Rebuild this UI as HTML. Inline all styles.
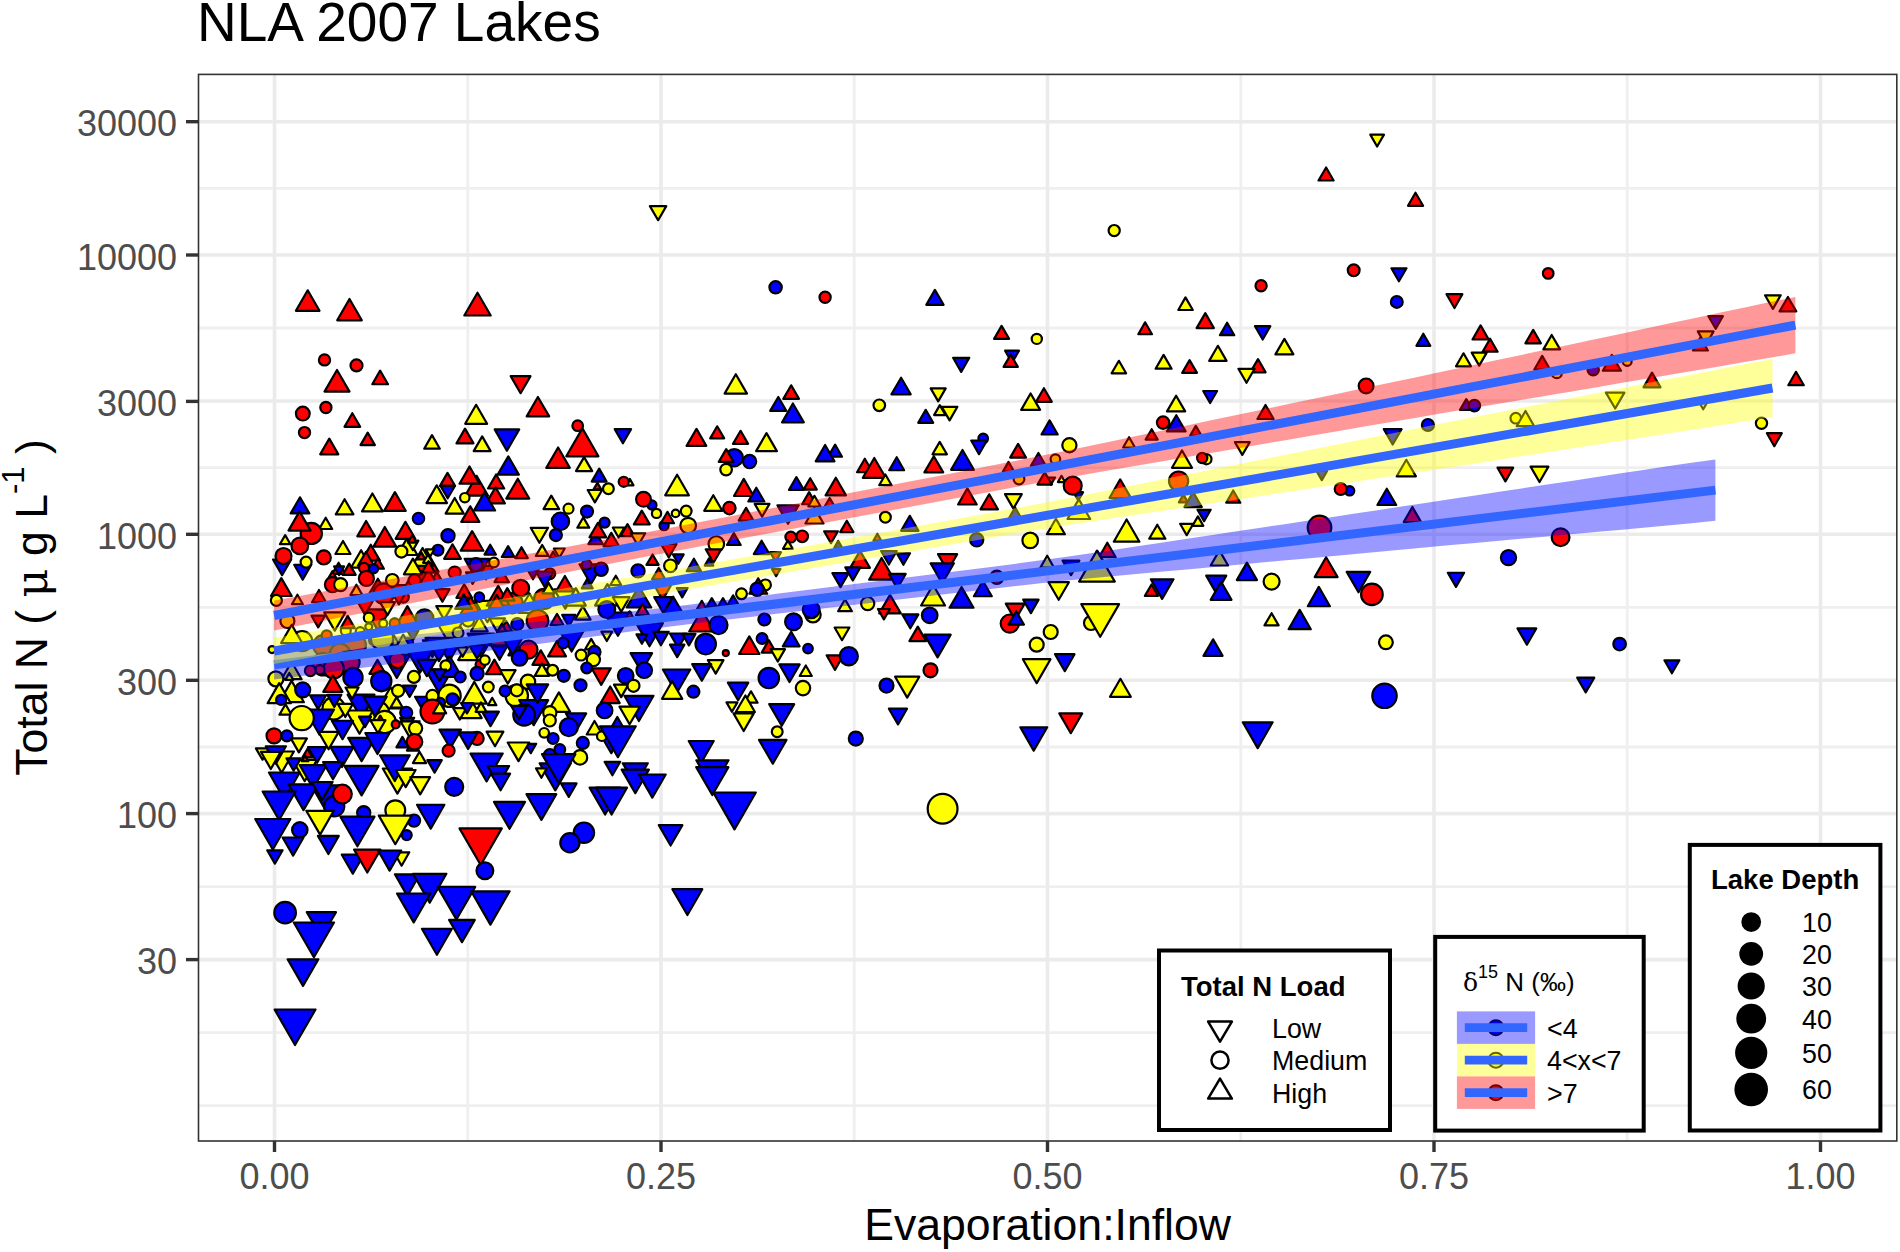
<!DOCTYPE html>
<html><head><meta charset="utf-8">
<style>
html,body{margin:0;padding:0;background:#fff;}
svg{display:block;}
text{font-family:"Liberation Sans",Arial,sans-serif;}
</style></head>
<body>
<svg width="1900" height="1252" viewBox="0 0 1900 1252">
<rect x="0" y="0" width="1900" height="1252" fill="#fff"/>
<defs><clipPath id="pc"><rect x="198.5" y="74.4" width="1698.3" height="1066.6"/></clipPath></defs>
<text x="197" y="41.3" font-size="55" fill="#000">NLA 2007 Lakes</text>
<g clip-path="url(#pc)">
<g stroke="#EBEBEB" fill="none">
<line x1="198.5" x2="1896.8" y1="1105.7" y2="1105.7" stroke-width="2.8" stroke="#EFEFEF"/>
<line x1="198.5" x2="1896.8" y1="1032.7" y2="1032.7" stroke-width="2.8" stroke="#EFEFEF"/>
<line x1="198.5" x2="1896.8" y1="886.6" y2="886.6" stroke-width="2.8" stroke="#EFEFEF"/>
<line x1="198.5" x2="1896.8" y1="747.0" y2="747.0" stroke-width="2.8" stroke="#EFEFEF"/>
<line x1="198.5" x2="1896.8" y1="607.3" y2="607.3" stroke-width="2.8" stroke="#EFEFEF"/>
<line x1="198.5" x2="1896.8" y1="467.7" y2="467.7" stroke-width="2.8" stroke="#EFEFEF"/>
<line x1="198.5" x2="1896.8" y1="328.0" y2="328.0" stroke-width="2.8" stroke="#EFEFEF"/>
<line x1="198.5" x2="1896.8" y1="188.4" y2="188.4" stroke-width="2.8" stroke="#EFEFEF"/>
<line y1="74.4" y2="1141.0" x1="467.8" x2="467.8" stroke-width="2.8" stroke="#EFEFEF"/>
<line y1="74.4" y2="1141.0" x1="854.2" x2="854.2" stroke-width="2.8" stroke="#EFEFEF"/>
<line y1="74.4" y2="1141.0" x1="1240.8" x2="1240.8" stroke-width="2.8" stroke="#EFEFEF"/>
<line y1="74.4" y2="1141.0" x1="1627.2" x2="1627.2" stroke-width="2.8" stroke="#EFEFEF"/>
<line x1="198.5" x2="1896.8" y1="959.6" y2="959.6" stroke-width="3.6"/>
<line x1="198.5" x2="1896.8" y1="813.6" y2="813.6" stroke-width="3.6"/>
<line x1="198.5" x2="1896.8" y1="680.3" y2="680.3" stroke-width="3.6"/>
<line x1="198.5" x2="1896.8" y1="534.3" y2="534.3" stroke-width="3.6"/>
<line x1="198.5" x2="1896.8" y1="401.0" y2="401.0" stroke-width="3.6"/>
<line x1="198.5" x2="1896.8" y1="255.0" y2="255.0" stroke-width="3.6"/>
<line x1="198.5" x2="1896.8" y1="121.7" y2="121.7" stroke-width="3.6"/>
<line y1="74.4" y2="1141.0" x1="274.5" x2="274.5" stroke-width="3.6"/>
<line y1="74.4" y2="1141.0" x1="661.0" x2="661.0" stroke-width="3.6"/>
<line y1="74.4" y2="1141.0" x1="1047.5" x2="1047.5" stroke-width="3.6"/>
<line y1="74.4" y2="1141.0" x1="1434.0" x2="1434.0" stroke-width="3.6"/>
<line y1="74.4" y2="1141.0" x1="1820.5" x2="1820.5" stroke-width="3.6"/>
</g>
<g stroke="#000" stroke-width="2.2" stroke-linejoin="round">
<polygon points="282.1,575.2 291.2,559.5 273.0,559.5" fill="#0000FF"/>
<polygon points="302.7,579.6 311.3,564.8 294.2,564.8" fill="#0000FF"/>
<polygon points="751.0,691.3 757.6,702.7 744.4,702.7" fill="#FFFF00"/>
<circle cx="813.0" cy="614.7" r="7.7" fill="#FFFF00"/>
<polygon points="436.8,571.9 444.0,584.4 429.6,584.4" fill="#FF0000"/>
<circle cx="424.5" cy="575.9" r="5.4" fill="#FF0000"/>
<polygon points="486.0,579.3 493.8,565.8 478.2,565.8" fill="#FF0000"/>
<polygon points="501.7,569.7 508.9,582.1 494.5,582.1" fill="#FF0000"/>
<polygon points="472.6,583.9 479.2,572.4 466.0,572.4" fill="#FF0000"/>
<polygon points="533.0,579.3 540.8,565.8 525.2,565.8" fill="#0000FF"/>
<polygon points="454.7,616.6 461.9,629.1 447.5,629.1" fill="#FFFF00"/>
<circle cx="468.1" cy="620.6" r="6.0" fill="#FFFF00"/>
<polygon points="497.2,631.9 505.0,618.4 489.4,618.4" fill="#FFFF00"/>
<polygon points="506.2,621.0 512.2,631.4 500.2,631.4" fill="#FF0000"/>
<circle cx="517.3" cy="624.0" r="6.0" fill="#0000FF"/>
<polygon points="568.8,626.4 575.4,614.9 562.2,614.9" fill="#0000FF"/>
<polygon points="432.4,656.9 441.9,640.3 422.8,640.3" fill="#0000FF"/>
<polygon points="449.1,661.4 457.5,646.9 440.8,646.9" fill="#0000FF"/>
<polygon points="516.2,641.8 524.0,655.3 508.4,655.3" fill="#0000FF"/>
<circle cx="549.8" cy="573.7" r="5.4" fill="#FF0000"/>
<circle cx="345.8" cy="630.6" r="5.0" fill="#FFFF00"/>
<circle cx="360.2" cy="631.6" r="4.5" fill="#FFFF00"/>
<circle cx="374.6" cy="640.2" r="5.5" fill="#FF0000"/>
<polygon points="393.7,635.0 399.8,645.4 387.7,645.4" fill="#FFFF00"/>
<circle cx="408.1" cy="643.1" r="5.0" fill="#0000FF"/>
<polygon points="355.4,640.2 360.9,649.8 349.9,649.8" fill="#FFFF00"/>
<circle cx="336.2" cy="645.0" r="5.0" fill="#FFFF00"/>
<polygon points="412.9,640.2 418.4,630.6 407.4,630.6" fill="#0000FF"/>
<polygon points="384.2,597.9 390.7,586.6 377.6,586.6" fill="#FFFF00"/>
<circle cx="403.3" cy="597.1" r="5.5" fill="#FF0000"/>
<polygon points="377.9,578.7 389.1,598.1 366.7,598.1" fill="#FF0000"/>
<polygon points="398.9,604.4 410.1,585.1 387.8,585.1" fill="#FF0000"/>
<polygon points="428.4,569.2 438.5,586.6 418.4,586.6" fill="#FF0000"/>
<polygon points="476.8,580.1 489.1,558.8 464.6,558.8" fill="#0000FF"/>
<circle cx="512.6" cy="603.2" r="10.1" fill="#FF0000"/>
<polygon points="529.5,593.5 540.6,612.8 518.3,612.8" fill="#FFFF00"/>
<polygon points="565.3,608.6 576.4,589.3 554.1,589.3" fill="#FFFF00"/>
<polygon points="638.9,586.2 651.2,607.5 626.7,607.5" fill="#0000FF"/>
<polygon points="607.4,584.1 619.7,605.4 595.1,605.4" fill="#FFFF00"/>
<circle cx="323.2" cy="645.3" r="10.1" fill="#FF0000"/>
<circle cx="302.1" cy="641.1" r="10.1" fill="#FFFF00"/>
<circle cx="354.7" cy="645.3" r="11.2" fill="#FF0000"/>
<circle cx="382.1" cy="638.9" r="11.2" fill="#FFFF00"/>
<polygon points="403.2,634.6 415.4,655.9 390.9,655.9" fill="#FFFF00"/>
<circle cx="340.0" cy="653.7" r="10.1" fill="#FF0000"/>
<polygon points="449.5,644.2 462.9,621.0 436.1,621.0" fill="#FFFF00"/>
<polygon points="438.9,661.1 452.4,637.9 425.5,637.9" fill="#0000FF"/>
<polygon points="470.5,638.8 482.8,660.1 458.2,660.1" fill="#FFFF00"/>
<polygon points="481.1,656.9 494.5,633.7 467.6,633.7" fill="#0000FF"/>
<polygon points="502.1,624.1 514.4,645.4 489.8,645.4" fill="#FF0000"/>
<polygon points="512.6,654.8 526.0,631.6 499.2,631.6" fill="#0000FF"/>
<polygon points="571.6,651.5 586.1,626.4 557.1,626.4" fill="#0000FF"/>
<polygon points="617.9,635.8 631.3,612.6 604.5,612.6" fill="#0000FF"/>
<polygon points="649.5,646.3 662.9,623.1 636.1,623.1" fill="#0000FF"/>
<circle cx="323.2" cy="664.2" r="11.2" fill="#FF0000"/>
<polygon points="291.6,661.8 301.6,679.2 281.5,679.2" fill="#FFFF00"/>
<polygon points="396.8,677.9 410.2,654.7 383.4,654.7" fill="#0000FF"/>
<polygon points="420.0,672.6 434.5,647.4 405.5,647.4" fill="#0000FF"/>
<polygon points="438.9,692.7 452.4,669.4 425.5,669.4" fill="#0000FF"/>
<polygon points="449.5,655.7 461.8,677.0 437.2,677.0" fill="#0000FF"/>
<polygon points="291.6,680.9 303.9,702.2 279.3,702.2" fill="#FFFF00"/>
<circle cx="333.7" cy="708.4" r="11.2" fill="#FFFF00"/>
<polygon points="361.1,717.9 374.5,694.7 347.6,694.7" fill="#0000FF"/>
<polygon points="390.5,687.3 402.8,708.5 378.2,708.5" fill="#FFFF00"/>
<circle cx="377.9" cy="712.6" r="11.2" fill="#FFFF00"/>
<polygon points="428.4,720.0 441.8,696.8 415.0,696.8" fill="#0000FF"/>
<circle cx="449.5" cy="695.8" r="11.2" fill="#FFFF00"/>
<polygon points="470.5,698.7 481.7,718.1 459.4,718.1" fill="#FFFF00"/>
<circle cx="516.8" cy="695.8" r="11.2" fill="#FFFF00"/>
<polygon points="533.7,725.2 548.2,700.1 519.2,700.1" fill="#0000FF"/>
<polygon points="558.9,692.4 570.1,711.8 547.8,711.8" fill="#FFFF00"/>
<polygon points="638.9,721.0 653.5,695.8 624.4,695.8" fill="#0000FF"/>
<polygon points="407.4,537.6 417.4,555.0 397.3,555.0" fill="#FFFF00"/>
<polygon points="361.1,550.2 371.1,567.7 351.0,567.7" fill="#FFFF00"/>
<polygon points="426.3,550.4 438.6,571.7 414.0,571.7" fill="#FF0000"/>
<polygon points="377.9,630.6 390.2,609.4 365.6,609.4" fill="#FF0000"/>
<polygon points="407.4,606.1 418.5,625.5 396.2,625.5" fill="#FF0000"/>
<polygon points="470.5,596.7 482.8,618.0 458.2,618.0" fill="#FF0000"/>
<polygon points="487.4,622.2 499.7,600.9 475.1,600.9" fill="#FFFF00"/>
<circle cx="544.2" cy="598.9" r="10.1" fill="#FF0000"/>
<polygon points="575.8,588.1 585.8,605.6 565.7,605.6" fill="#FFFF00"/>
<circle cx="348.4" cy="662.1" r="11.2" fill="#FF0000"/>
<circle cx="333.7" cy="668.4" r="10.1" fill="#FF0000"/>
<polygon points="319.5,734.7 334.0,709.5 305.0,709.5" fill="#0000FF"/>
<polygon points="359.5,733.7 372.9,710.5 346.1,710.5" fill="#FFFF00"/>
<circle cx="384.7" cy="722.1" r="11.2" fill="#FFFF00"/>
<polygon points="304.7,781.2 317.0,759.9 292.4,759.9" fill="#FFFF00"/>
<polygon points="313.2,788.5 326.6,765.2 299.8,765.2" fill="#0000FF"/>
<polygon points="397.4,793.6 411.9,768.5 382.8,768.5" fill="#FFFF00"/>
<polygon points="325.8,810.5 340.3,785.3 311.3,785.3" fill="#0000FF"/>
<circle cx="334.2" cy="806.3" r="10.1" fill="#0000FF"/>
<polygon points="281.6,772.7 293.9,751.5 269.3,751.5" fill="#FFFF00"/>
<polygon points="361.6,761.1 375.0,737.9 348.2,737.9" fill="#0000FF"/>
<polygon points="555.3,790.4 570.9,763.3 539.6,763.3" fill="#0000FF"/>
<polygon points="476.6,475.8 488.1,495.7 465.1,495.7" fill="#FF0000"/>
<polygon points="370.8,544.7 380.0,560.6 361.7,560.6" fill="#FF0000"/>
<polygon points="422.6,548.0 433.0,565.9 412.3,565.9" fill="#FFFF00"/>
<circle cx="383.8" cy="593.6" r="10.3" fill="#FF0000"/>
<polygon points="498.2,585.8 509.6,605.7 486.7,605.7" fill="#FF0000"/>
<polygon points="590.9,584.2 602.4,564.3 579.5,564.3" fill="#0000FF"/>
<polygon points="307.7,290.3 319.5,310.8 295.9,310.8" fill="#FF0000"/>
<polygon points="349.5,299.0 361.8,320.3 337.2,320.3" fill="#FF0000"/>
<polygon points="477.5,292.7 490.7,315.5 464.3,315.5" fill="#FF0000"/>
<circle cx="324.5" cy="359.9" r="5.6" fill="#FF0000"/>
<circle cx="356.5" cy="365.4" r="6.0" fill="#FF0000"/>
<polygon points="337.0,370.0 349.5,391.6 324.5,391.6" fill="#FF0000"/>
<polygon points="380.1,370.6 388.0,384.2 372.3,384.2" fill="#FF0000"/>
<polygon points="520.6,393.2 530.5,376.1 510.7,376.1" fill="#FF0000"/>
<polygon points="537.9,397.0 549.2,416.4 526.7,416.4" fill="#FF0000"/>
<circle cx="302.8" cy="413.6" r="6.9" fill="#FF0000"/>
<circle cx="325.9" cy="407.5" r="5.6" fill="#FF0000"/>
<polygon points="352.3,413.2 360.2,426.8 344.5,426.8" fill="#FF0000"/>
<polygon points="476.1,404.8 487.1,423.8 465.2,423.8" fill="#FFFF00"/>
<circle cx="304.5" cy="432.6" r="5.6" fill="#FF0000"/>
<polygon points="367.7,432.6 374.9,445.1 360.5,445.1" fill="#FF0000"/>
<polygon points="329.3,438.6 338.3,454.3 320.2,454.3" fill="#FF0000"/>
<polygon points="432.0,435.1 439.8,448.7 424.2,448.7" fill="#FFFF00"/>
<polygon points="465.0,428.6 473.5,443.4 456.5,443.4" fill="#FF0000"/>
<polygon points="482.2,436.4 490.6,451.1 473.7,451.1" fill="#FFFF00"/>
<polygon points="506.9,450.7 519.2,429.4 494.7,429.4" fill="#0000FF"/>
<polygon points="658.1,220.2 666.3,206.1 649.9,206.1" fill="#FFFF00"/>
<circle cx="775.6" cy="287.3" r="6.2" fill="#0000FF"/>
<circle cx="825.1" cy="297.2" r="5.6" fill="#FF0000"/>
<polygon points="934.9,289.9 943.6,304.8 926.3,304.8" fill="#0000FF"/>
<polygon points="735.8,374.2 747.0,393.6 724.6,393.6" fill="#FFFF00"/>
<polygon points="791.2,385.3 799.0,398.9 783.3,398.9" fill="#FF0000"/>
<polygon points="901.1,377.7 910.7,394.3 891.4,394.3" fill="#0000FF"/>
<polygon points="1377.1,146.5 1384.0,134.6 1370.3,134.6" fill="#FFFF00"/>
<polygon points="1326.1,167.5 1333.6,180.5 1318.5,180.5" fill="#FF0000"/>
<polygon points="1415.5,192.7 1423.1,205.8 1408.0,205.8" fill="#FF0000"/>
<circle cx="1114.2" cy="230.6" r="5.6" fill="#FFFF00"/>
<circle cx="1353.7" cy="270.3" r="5.9" fill="#FF0000"/>
<polygon points="1398.9,281.3 1406.5,268.3 1391.4,268.3" fill="#0000FF"/>
<circle cx="1261.1" cy="285.8" r="5.6" fill="#FF0000"/>
<circle cx="1396.8" cy="301.9" r="5.9" fill="#0000FF"/>
<polygon points="1454.5,308.0 1462.4,294.2 1446.5,294.2" fill="#FF0000"/>
<polygon points="1185.5,297.4 1192.8,310.0 1178.3,310.0" fill="#FFFF00"/>
<polygon points="1205.3,313.1 1213.9,328.1 1196.6,328.1" fill="#FF0000"/>
<circle cx="1548.2" cy="273.4" r="5.3" fill="#FF0000"/>
<polygon points="1772.9,308.9 1780.7,295.3 1765.0,295.3" fill="#FFFF00"/>
<polygon points="1787.9,297.0 1796.3,311.4 1779.6,311.4" fill="#FF0000"/>
<polygon points="1715.7,328.8 1722.9,316.2 1708.4,316.2" fill="#0000FF"/>
<polygon points="1705.7,345.1 1713.6,331.4 1697.8,331.4" fill="#FFFF00"/>
<polygon points="1700.4,337.6 1707.9,350.5 1692.9,350.5" fill="#FF0000"/>
<polygon points="1480.6,325.4 1488.7,339.5 1472.5,339.5" fill="#FF0000"/>
<polygon points="1490.1,338.7 1497.6,351.7 1482.6,351.7" fill="#FF0000"/>
<polygon points="1533.2,329.9 1540.9,343.3 1525.4,343.3" fill="#FF0000"/>
<polygon points="1551.7,335.0 1560.1,349.4 1543.4,349.4" fill="#FFFF00"/>
<polygon points="1479.2,365.6 1486.7,352.6 1471.7,352.6" fill="#FFFF00"/>
<polygon points="1463.5,353.3 1471.0,366.3 1456.0,366.3" fill="#FFFF00"/>
<polygon points="1542.2,355.9 1550.2,369.7 1534.2,369.7" fill="#FF0000"/>
<circle cx="1556.8" cy="373.2" r="5.0" fill="#FFFF00"/>
<circle cx="1593.2" cy="369.7" r="5.7" fill="#0000FF"/>
<polygon points="1611.9,354.9 1621.0,370.7 1602.8,370.7" fill="#FF0000"/>
<circle cx="1627.2" cy="361.4" r="4.4" fill="#FFFF00"/>
<polygon points="1652.0,372.6 1660.5,387.3 1643.5,387.3" fill="#FF0000"/>
<polygon points="1796.0,371.8 1803.8,385.2 1788.3,385.2" fill="#FF0000"/>
<polygon points="1615.2,408.5 1624.4,392.6 1605.9,392.6" fill="#FFFF00"/>
<polygon points="1703.2,409.3 1708.2,400.6 1698.1,400.6" fill="#FFFF00"/>
<polygon points="1466.3,399.1 1472.5,409.9 1460.0,409.9" fill="#0000FF"/>
<circle cx="1474.4" cy="405.6" r="5.7" fill="#0000FF"/>
<circle cx="1515.8" cy="418.2" r="5.3" fill="#FFFF00"/>
<polygon points="1525.5,411.0 1534.2,426.2 1516.7,426.2" fill="#FFFF00"/>
<circle cx="1761.5" cy="423.2" r="5.6" fill="#FFFF00"/>
<polygon points="1774.3,446.2 1781.8,433.2 1766.9,433.2" fill="#FF0000"/>
<polygon points="1505.4,481.4 1513.2,467.7 1497.5,467.7" fill="#FF0000"/>
<polygon points="1539.5,482.0 1548.4,466.6 1530.6,466.6" fill="#FFFF00"/>
<circle cx="1560.6" cy="537.3" r="8.9" fill="#FF0000"/>
<circle cx="1508.5" cy="557.6" r="7.6" fill="#0000FF"/>
<polygon points="1456.0,586.9 1464.1,572.8 1447.8,572.8" fill="#0000FF"/>
<polygon points="1526.9,644.7 1536.3,628.4 1517.5,628.4" fill="#0000FF"/>
<circle cx="1619.6" cy="644.1" r="6.3" fill="#0000FF"/>
<polygon points="1671.9,673.3 1679.4,660.3 1664.4,660.3" fill="#0000FF"/>
<polygon points="1585.7,692.4 1594.3,677.6 1577.2,677.6" fill="#0000FF"/>
<polygon points="1227.1,322.7 1234.3,335.2 1219.9,335.2" fill="#0000FF"/>
<polygon points="1262.7,339.5 1270.3,326.2 1255.0,326.2" fill="#0000FF"/>
<polygon points="1284.4,338.9 1293.4,354.4 1275.4,354.4" fill="#FFFF00"/>
<polygon points="1423.3,333.7 1430.3,345.8 1416.4,345.8" fill="#0000FF"/>
<polygon points="1217.9,345.8 1226.6,360.9 1209.2,360.9" fill="#FFFF00"/>
<polygon points="1163.6,354.9 1171.6,368.7 1155.6,368.7" fill="#FFFF00"/>
<polygon points="1189.6,360.1 1197.0,372.9 1182.2,372.9" fill="#FF0000"/>
<polygon points="1258.0,359.1 1265.6,372.3 1250.3,372.3" fill="#FF0000"/>
<polygon points="1246.5,382.8 1254.6,368.8 1238.4,368.8" fill="#FFFF00"/>
<circle cx="1366.1" cy="385.9" r="7.4" fill="#FF0000"/>
<polygon points="1210.1,403.0 1217.1,391.0 1203.2,391.0" fill="#0000FF"/>
<polygon points="1176.1,395.7 1185.2,411.4 1167.0,411.4" fill="#FFFF00"/>
<polygon points="1265.5,405.0 1273.6,419.0 1257.4,419.0" fill="#FF0000"/>
<circle cx="1163.1" cy="422.6" r="6.2" fill="#FF0000"/>
<polygon points="1176.3,415.2 1185.6,431.4 1166.9,431.4" fill="#0000FF"/>
<polygon points="1195.8,425.9 1201.4,435.5 1190.2,435.5" fill="#FF0000"/>
<polygon points="1151.7,429.2 1157.7,439.6 1145.6,439.6" fill="#FF0000"/>
<polygon points="1242.3,454.9 1249.7,442.2 1234.9,442.2" fill="#FFFF00"/>
<circle cx="1206.4" cy="459.2" r="5.1" fill="#FFFF00"/>
<circle cx="1202.2" cy="458.0" r="5.1" fill="#FF0000"/>
<polygon points="1182.0,450.5 1192.0,467.8 1172.0,467.8" fill="#FFFF00"/>
<circle cx="1178.6" cy="481.1" r="9.6" fill="#FF0000"/>
<polygon points="1392.7,444.5 1401.6,429.1 1383.8,429.1" fill="#0000FF"/>
<circle cx="1427.9" cy="425.0" r="6.0" fill="#0000FF"/>
<polygon points="1406.3,459.8 1415.9,476.4 1396.7,476.4" fill="#FFFF00"/>
<polygon points="1321.8,480.1 1327.1,470.9 1316.5,470.9" fill="#0000FF"/>
<circle cx="1349.6" cy="490.8" r="4.7" fill="#0000FF"/>
<circle cx="1340.7" cy="489.0" r="6.0" fill="#FF0000"/>
<polygon points="1001.6,325.9 1009.1,338.9 994.1,338.9" fill="#FF0000"/>
<circle cx="1036.8" cy="338.9" r="5.1" fill="#FFFF00"/>
<polygon points="1012.0,362.8 1019.0,350.7 1005.1,350.7" fill="#0000FF"/>
<polygon points="1010.7,354.6 1017.8,366.9 1003.6,366.9" fill="#FF0000"/>
<polygon points="961.2,371.9 969.3,357.8 953.1,357.8" fill="#0000FF"/>
<polygon points="1145.1,322.3 1152.0,334.2 1138.3,334.2" fill="#FF0000"/>
<polygon points="1118.9,360.8 1126.1,373.3 1111.6,373.3" fill="#FFFF00"/>
<polygon points="938.2,401.4 945.7,388.4 930.7,388.4" fill="#FFFF00"/>
<polygon points="939.8,405.1 945.6,415.1 934.1,415.1" fill="#FFFF00"/>
<polygon points="949.6,420.4 957.4,406.8 941.7,406.8" fill="#FFFF00"/>
<polygon points="925.7,409.8 933.2,422.8 918.2,422.8" fill="#0000FF"/>
<polygon points="1030.6,393.5 1040.1,409.9 1021.2,409.9" fill="#FFFF00"/>
<polygon points="1043.9,388.2 1051.8,401.9 1036.0,401.9" fill="#FF0000"/>
<polygon points="1049.6,420.4 1057.7,434.5 1041.5,434.5" fill="#0000FF"/>
<circle cx="983.2" cy="438.5" r="4.8" fill="#0000FF"/>
<polygon points="979.0,454.2 986.9,440.5 971.2,440.5" fill="#0000FF"/>
<polygon points="939.7,441.9 946.9,454.3 932.5,454.3" fill="#FFFF00"/>
<polygon points="962.5,450.0 973.9,469.8 951.1,469.8" fill="#0000FF"/>
<polygon points="896.7,457.2 904.1,470.2 889.2,470.2" fill="#0000FF"/>
<polygon points="933.8,456.2 943.2,472.4 924.4,472.4" fill="#FF0000"/>
<polygon points="1018.1,443.9 1026.0,457.6 1010.2,457.6" fill="#FF0000"/>
<circle cx="1069.4" cy="445.2" r="7.1" fill="#FFFF00"/>
<polygon points="1038.4,453.0 1045.9,465.9 1030.9,465.9" fill="#0000FF"/>
<circle cx="1055.4" cy="459.2" r="4.8" fill="#FFFF00"/>
<polygon points="1008.5,461.9 1014.2,471.8 1002.8,471.8" fill="#FF0000"/>
<polygon points="1129.1,437.2 1135.0,447.5 1123.1,447.5" fill="#FFFF00"/>
<polygon points="778.3,397.0 786.3,410.9 770.2,410.9" fill="#0000FF"/>
<polygon points="792.9,403.5 803.8,422.4 782.1,422.4" fill="#0000FF"/>
<circle cx="879.3" cy="405.3" r="5.8" fill="#FFFF00"/>
<polygon points="622.9,443.3 631.1,429.1 614.7,429.1" fill="#0000FF"/>
<polygon points="696.5,428.9 706.3,445.9 686.6,445.9" fill="#FF0000"/>
<polygon points="717.2,426.3 724.2,438.4 710.2,438.4" fill="#FF0000"/>
<polygon points="740.6,430.8 748.1,443.9 733.0,443.9" fill="#FF0000"/>
<polygon points="766.5,433.1 776.9,451.1 756.1,451.1" fill="#FFFF00"/>
<circle cx="734.3" cy="457.7" r="8.6" fill="#0000FF"/>
<polygon points="726.2,449.1 733.6,461.9 718.8,461.9" fill="#FF0000"/>
<circle cx="749.6" cy="461.5" r="6.6" fill="#0000FF"/>
<circle cx="726.1" cy="469.6" r="5.8" fill="#FFFF00"/>
<polygon points="835.1,444.6 842.0,456.7 828.1,456.7" fill="#0000FF"/>
<polygon points="825.1,445.0 834.5,461.3 815.7,461.3" fill="#0000FF"/>
<polygon points="864.8,458.7 872.6,472.2 857.0,472.2" fill="#FF0000"/>
<polygon points="874.3,458.0 885.7,477.8 862.8,477.8" fill="#FF0000"/>
<polygon points="885.4,474.5 891.6,485.2 879.2,485.2" fill="#FFFF00"/>
<polygon points="629.8,478.9 633.5,485.4 626.0,485.4" fill="#FFFF00"/>
<circle cx="623.7" cy="481.8" r="5.0" fill="#FF0000"/>
<circle cx="608.4" cy="488.7" r="5.4" fill="#FFFF00"/>
<polygon points="677.1,474.7 688.9,495.3 665.2,495.3" fill="#FFFF00"/>
<polygon points="743.8,478.9 753.6,496.0 734.0,496.0" fill="#FF0000"/>
<polygon points="756.3,487.7 764.3,501.5 748.3,501.5" fill="#0000FF"/>
<polygon points="796.4,477.1 803.8,489.9 789.0,489.9" fill="#0000FF"/>
<polygon points="810.2,478.2 816.8,489.6 803.6,489.6" fill="#FF0000"/>
<polygon points="835.8,477.7 846.0,495.4 825.6,495.4" fill="#FF0000"/>
<circle cx="651.9" cy="505.0" r="4.6" fill="#0000FF"/>
<circle cx="643.5" cy="499.2" r="7.4" fill="#FF0000"/>
<circle cx="656.5" cy="513.4" r="4.6" fill="#FFFF00"/>
<polygon points="641.8,510.6 649.8,524.4 633.9,524.4" fill="#FF0000"/>
<polygon points="713.3,495.2 722.3,510.8 704.2,510.8" fill="#FFFF00"/>
<circle cx="729.4" cy="508.1" r="6.2" fill="#FF0000"/>
<polygon points="762.1,516.7 769.5,503.9 754.7,503.9" fill="#FFFF00"/>
<polygon points="746.1,507.8 753.5,520.6 738.7,520.6" fill="#FF0000"/>
<polygon points="788.0,523.7 798.7,505.3 777.4,505.3" fill="#0000FF"/>
<polygon points="809.1,492.1 816.1,504.2 802.1,504.2" fill="#FF0000"/>
<polygon points="814.4,495.8 820.6,506.5 808.3,506.5" fill="#FFFF00"/>
<polygon points="814.4,507.9 823.5,523.5 805.4,523.5" fill="#FFFF00"/>
<polygon points="829.7,498.0 834.7,506.6 824.7,506.6" fill="#FF0000"/>
<circle cx="675.6" cy="513.4" r="3.8" fill="#FFFF00"/>
<circle cx="686.2" cy="511.1" r="5.4" fill="#FFFF00"/>
<circle cx="664.1" cy="525.6" r="4.6" fill="#0000FF"/>
<circle cx="688.2" cy="525.6" r="7.8" fill="#FFFF00"/>
<polygon points="667.5,511.8 674.0,523.2 660.9,523.2" fill="#FF0000"/>
<circle cx="604.6" cy="522.6" r="5.0" fill="#0000FF"/>
<polygon points="846.8,520.7 853.4,532.1 840.2,532.1" fill="#FF0000"/>
<circle cx="885.4" cy="517.2" r="5.4" fill="#FFFF00"/>
<circle cx="790.8" cy="537.1" r="5.4" fill="#FF0000"/>
<circle cx="802.2" cy="536.3" r="5.8" fill="#FF0000"/>
<polygon points="618.6,537.5 624.4,527.5 612.8,527.5" fill="#FFFF00"/>
<polygon points="627.5,524.1 634.5,536.2 620.5,536.2" fill="#FF0000"/>
<circle cx="577.7" cy="425.7" r="5.3" fill="#FF0000"/>
<polygon points="582.4,428.4 598.4,456.3 566.3,456.3" fill="#FF0000"/>
<polygon points="508.3,456.4 518.8,474.6 497.7,474.6" fill="#0000FF"/>
<polygon points="558.1,447.5 569.8,467.9 546.3,467.9" fill="#FF0000"/>
<polygon points="584.1,457.1 592.2,471.1 576.0,471.1" fill="#FFFF00"/>
<polygon points="447.5,472.9 455.0,485.9 440.0,485.9" fill="#FF0000"/>
<polygon points="469.5,466.5 479.4,483.7 459.5,483.7" fill="#FF0000"/>
<polygon points="496.1,474.5 504.2,488.5 488.0,488.5" fill="#FF0000"/>
<polygon points="517.8,478.7 529.2,498.6 506.3,498.6" fill="#FF0000"/>
<polygon points="436.7,485.3 447.0,503.1 426.5,503.1" fill="#FFFF00"/>
<polygon points="447.7,498.3 454.9,485.9 440.5,485.9" fill="#0000FF"/>
<circle cx="464.8" cy="497.7" r="4.7" fill="#FFFF00"/>
<polygon points="495.5,487.3 504.9,503.4 486.2,503.4" fill="#FF0000"/>
<polygon points="484.5,492.2 495.1,510.5 474.0,510.5" fill="#0000FF"/>
<polygon points="454.7,498.0 463.7,513.6 445.6,513.6" fill="#FFFF00"/>
<polygon points="470.3,506.3 479.3,521.9 461.3,521.9" fill="#FF0000"/>
<circle cx="418.5" cy="518.5" r="5.7" fill="#0000FF"/>
<polygon points="597.4,482.8 601.2,489.4 593.6,489.4" fill="#FF0000"/>
<polygon points="599.2,468.6 606.6,481.6 591.7,481.6" fill="#0000FF"/>
<polygon points="594.9,502.4 602.1,490.0 587.7,490.0" fill="#FFFF00"/>
<polygon points="551.3,495.6 559.1,509.1 543.5,509.1" fill="#FFFF00"/>
<circle cx="568.5" cy="508.7" r="5.0" fill="#FFFF00"/>
<circle cx="560.4" cy="521.4" r="8.7" fill="#0000FF"/>
<circle cx="587.0" cy="511.6" r="6.0" fill="#0000FF"/>
<polygon points="583.3,517.4 589.3,527.7 577.3,527.7" fill="#FFFF00"/>
<polygon points="300.0,497.3 309.3,513.4 290.7,513.4" fill="#0000FF"/>
<polygon points="325.7,517.7 332.2,529.0 319.2,529.0" fill="#FFFF00"/>
<circle cx="311.3" cy="533.4" r="10.6" fill="#FF0000"/>
<polygon points="299.5,511.4 310.6,530.6 288.5,530.6" fill="#FF0000"/>
<polygon points="344.6,499.2 353.4,514.4 335.8,514.4" fill="#FFFF00"/>
<polygon points="372.4,493.5 382.7,511.4 362.0,511.4" fill="#FFFF00"/>
<polygon points="394.9,492.1 405.7,510.9 384.1,510.9" fill="#FF0000"/>
<polygon points="366.1,521.0 374.9,536.3 357.3,536.3" fill="#FF0000"/>
<polygon points="384.8,527.0 396.2,546.6 373.5,546.6" fill="#FF0000"/>
<polygon points="405.4,521.8 415.3,538.8 395.6,538.8" fill="#FF0000"/>
<polygon points="285.2,535.1 290.4,544.2 279.9,544.2" fill="#FFFF00"/>
<circle cx="299.8" cy="545.9" r="8.3" fill="#FF0000"/>
<circle cx="283.5" cy="556.0" r="8.0" fill="#FF0000"/>
<circle cx="323.8" cy="557.4" r="7.0" fill="#FF0000"/>
<polygon points="343.0,541.0 350.5,554.0 335.4,554.0" fill="#FFFF00"/>
<polygon points="412.9,550.2 418.4,540.6 407.4,540.6" fill="#FFFF00"/>
<circle cx="401.4" cy="551.6" r="6.0" fill="#FFFF00"/>
<circle cx="306.1" cy="562.1" r="5.5" fill="#FFFF00"/>
<polygon points="281.3,578.1 291.7,596.0 271.0,596.0" fill="#FF0000"/>
<circle cx="276.4" cy="600.4" r="5.5" fill="#FFFF00"/>
<polygon points="297.4,594.7 302.9,604.2 291.9,604.2" fill="#FFFF00"/>
<polygon points="319.0,590.0 326.0,602.2 312.0,602.2" fill="#FF0000"/>
<polygon points="338.6,562.7 345.2,574.0 332.1,574.0" fill="#FF0000"/>
<polygon points="339.1,575.1 344.1,566.4 334.1,566.4" fill="#0000FF"/>
<polygon points="349.2,563.6 355.7,574.9 342.7,574.9" fill="#FF0000"/>
<polygon points="332.4,571.2 337.4,579.8 327.4,579.8" fill="#FF0000"/>
<circle cx="332.4" cy="584.6" r="7.5" fill="#FF0000"/>
<circle cx="340.6" cy="584.6" r="6.5" fill="#FFFF00"/>
<polygon points="377.9,558.3 383.9,568.7 371.9,568.7" fill="#FF0000"/>
<polygon points="366.0,551.8 374.0,565.7 357.9,565.7" fill="#FF0000"/>
<circle cx="364.0" cy="567.9" r="5.0" fill="#FF0000"/>
<circle cx="373.6" cy="568.8" r="4.5" fill="#0000FF"/>
<circle cx="366.4" cy="578.4" r="7.5" fill="#FF0000"/>
<polygon points="356.4,584.7 362.4,595.1 350.4,595.1" fill="#FFFF00"/>
<circle cx="392.3" cy="580.3" r="6.3" fill="#FFFF00"/>
<polygon points="412.9,572.9 420.9,586.8 404.9,586.8" fill="#FF0000"/>
<polygon points="412.9,558.6 422.0,574.3 403.9,574.3" fill="#FFFF00"/>
<circle cx="287.4" cy="621.0" r="7.0" fill="#FFFF00"/>
<polygon points="318.2,627.4 325.0,615.7 311.5,615.7" fill="#FF0000"/>
<polygon points="334.8,630.7 345.4,612.4 324.2,612.4" fill="#FFFF00"/>
<polygon points="347.7,615.9 354.8,628.1 340.7,628.1" fill="#FF0000"/>
<polygon points="365.0,614.6 373.0,600.7 357.0,600.7" fill="#FF0000"/>
<circle cx="368.8" cy="617.7" r="5.0" fill="#FFFF00"/>
<polygon points="387.5,615.1 395.0,602.1 380.0,602.1" fill="#FFFF00"/>
<circle cx="383.2" cy="623.4" r="4.0" fill="#FFFF00"/>
<circle cx="394.7" cy="623.4" r="5.0" fill="#FF0000"/>
<circle cx="326.7" cy="635.4" r="5.0" fill="#FF0000"/>
<polygon points="291.7,624.8 302.3,643.1 281.1,643.1" fill="#FFFF00"/>
<circle cx="368.8" cy="626.8" r="3.5" fill="#FFFF00"/>
<circle cx="438.0" cy="550.2" r="5.4" fill="#0000FF"/>
<circle cx="448.0" cy="535.7" r="6.6" fill="#0000FF"/>
<polygon points="472.1,531.1 483.4,550.7 460.7,550.7" fill="#FF0000"/>
<polygon points="452.5,544.3 460.9,558.8 444.1,558.8" fill="#FF0000"/>
<polygon points="430.1,556.7 434.4,549.3 425.9,549.3" fill="#FFFF00"/>
<polygon points="421.2,552.1 425.4,559.4 416.9,559.4" fill="#FF0000"/>
<polygon points="427.9,554.4 432.7,562.8 423.1,562.8" fill="#FFFF00"/>
<polygon points="412.2,535.3 416.5,542.7 408.0,542.7" fill="#FF0000"/>
<polygon points="490.2,544.7 495.9,554.6 484.5,554.6" fill="#0000FF"/>
<polygon points="508.1,546.1 514.4,557.0 501.8,557.0" fill="#0000FF"/>
<polygon points="521.5,547.2 527.8,558.1 515.2,558.1" fill="#FF0000"/>
<polygon points="539.4,542.8 548.1,527.8 530.7,527.8" fill="#FFFF00"/>
<polygon points="542.2,545.0 548.5,555.9 535.9,555.9" fill="#FFFF00"/>
<circle cx="555.9" cy="535.1" r="6.0" fill="#0000FF"/>
<polygon points="559.3,557.9 564.7,548.5 553.9,548.5" fill="#FFFF00"/>
<polygon points="553.1,551.7 556.8,558.0 549.5,558.0" fill="#FF0000"/>
<polygon points="595.6,531.7 602.8,544.1 588.4,544.1" fill="#0000FF"/>
<polygon points="597.9,522.8 606.2,537.3 589.5,537.3" fill="#FF0000"/>
<polygon points="611.3,532.8 619.1,546.3 603.5,546.3" fill="#FF0000"/>
<circle cx="476.0" cy="564.7" r="6.6" fill="#0000FF"/>
<circle cx="493.9" cy="562.5" r="4.8" fill="#FFFF00"/>
<circle cx="454.7" cy="572.6" r="6.0" fill="#FF0000"/>
<polygon points="428.5,561.2 435.1,572.7 421.8,572.7" fill="#FF0000"/>
<circle cx="414.5" cy="580.4" r="6.0" fill="#FF0000"/>
<polygon points="442.4,601.7 449.6,589.2 435.2,589.2" fill="#FF0000"/>
<polygon points="464.2,584.3 472.0,597.8 456.4,597.8" fill="#FF0000"/>
<circle cx="479.3" cy="597.2" r="4.8" fill="#0000FF"/>
<polygon points="463.7,594.4 472.1,608.9 455.3,608.9" fill="#0000FF"/>
<polygon points="496.7,594.9 504.4,608.4 488.9,608.4" fill="#FF0000"/>
<polygon points="507.3,588.1 514.5,600.6 500.1,600.6" fill="#FF0000"/>
<circle cx="520.7" cy="588.2" r="8.4" fill="#FF0000"/>
<polygon points="544.7,587.0 553.7,571.5 535.8,571.5" fill="#0000FF"/>
<polygon points="548.7,583.0 554.7,593.4 542.6,593.4" fill="#FFFF00"/>
<polygon points="564.9,576.0 573.8,591.5 555.9,591.5" fill="#FF0000"/>
<polygon points="587.2,579.0 592.7,588.4 581.8,588.4" fill="#0000FF"/>
<circle cx="586.7" cy="564.7" r="4.8" fill="#0000FF"/>
<circle cx="601.2" cy="569.2" r="6.6" fill="#0000FF"/>
<polygon points="615.8,575.7 621.2,585.1 610.3,585.1" fill="#FFFF00"/>
<polygon points="444.1,619.6 451.9,606.1 436.3,606.1" fill="#FFFF00"/>
<circle cx="424.5" cy="618.4" r="9.0" fill="#0000FF"/>
<polygon points="479.3,616.7 487.7,631.3 470.9,631.3" fill="#FFFF00"/>
<circle cx="458.1" cy="632.9" r="5.4" fill="#FFFF00"/>
<circle cx="537.5" cy="620.6" r="10.8" fill="#FF0000"/>
<polygon points="557.0,613.8 563.6,625.2 550.4,625.2" fill="#FF0000"/>
<polygon points="582.8,606.1 590.6,619.6 575.0,619.6" fill="#FFFF00"/>
<circle cx="606.8" cy="609.5" r="8.4" fill="#0000FF"/>
<polygon points="477.1,658.7 484.9,645.2 469.3,645.2" fill="#0000FF"/>
<polygon points="499.5,659.8 507.2,646.3 491.7,646.3" fill="#0000FF"/>
<polygon points="462.6,656.6 468.0,647.3 457.1,647.3" fill="#FFFF00"/>
<circle cx="528.5" cy="649.7" r="9.0" fill="#FF0000"/>
<polygon points="557.0,640.8 566.0,656.4 548.1,656.4" fill="#FF0000"/>
<circle cx="563.2" cy="643.0" r="5.4" fill="#0000FF"/>
<polygon points="591.2,638.9 597.2,649.3 585.1,649.3" fill="#FFFF00"/>
<polygon points="606.8,641.0 612.2,631.6 601.4,631.6" fill="#FFFF00"/>
<circle cx="594.5" cy="651.9" r="6.0" fill="#0000FF"/>
<polygon points="638.0,545.8 645.2,533.3 630.8,533.3" fill="#FFFF00"/>
<polygon points="668.8,557.5 676.6,544.0 661.0,544.0" fill="#FF0000"/>
<polygon points="652.6,554.5 658.6,564.9 646.5,564.9" fill="#FF0000"/>
<circle cx="638.0" cy="570.9" r="6.6" fill="#0000FF"/>
<polygon points="678.3,563.8 683.7,554.4 672.9,554.4" fill="#0000FF"/>
<circle cx="670.4" cy="565.8" r="6.3" fill="#FFFF00"/>
<polygon points="658.7,568.0 665.3,579.4 652.1,579.4" fill="#FF0000"/>
<polygon points="693.9,558.7 701.1,571.2 686.7,571.2" fill="#0000FF"/>
<circle cx="716.3" cy="544.0" r="7.8" fill="#FFFF00"/>
<polygon points="713.5,562.8 721.3,549.3 705.7,549.3" fill="#FF0000"/>
<polygon points="709.0,558.3 713.3,565.6 704.8,565.6" fill="#0000FF"/>
<polygon points="733.8,533.0 740.7,545.0 727.0,545.0" fill="#0000FF"/>
<polygon points="761.6,540.7 769.4,554.1 753.8,554.1" fill="#0000FF"/>
<polygon points="787.9,540.4 792.7,548.8 783.0,548.8" fill="#FFFF00"/>
<polygon points="775.6,561.6 781.0,552.2 770.1,552.2" fill="#FF0000"/>
<polygon points="776.1,576.2 780.4,568.9 771.9,568.9" fill="#FF0000"/>
<circle cx="765.5" cy="584.9" r="5.4" fill="#FFFF00"/>
<polygon points="758.2,578.2 767.2,593.7 749.3,593.7" fill="#FF0000"/>
<circle cx="757.1" cy="589.3" r="6.6" fill="#0000FF"/>
<circle cx="741.5" cy="593.8" r="5.4" fill="#FFFF00"/>
<polygon points="662.6,599.9 672.2,583.3 653.1,583.3" fill="#FF0000"/>
<polygon points="682.2,597.4 687.6,588.0 676.8,588.0" fill="#0000FF"/>
<polygon points="663.2,612.8 672.2,597.2 654.2,597.2" fill="#0000FF"/>
<polygon points="673.2,596.7 683.4,614.3 663.1,614.3" fill="#0000FF"/>
<polygon points="621.2,611.7 629.6,597.2 612.9,597.2" fill="#FFFF00"/>
<polygon points="642.5,603.7 649.1,615.2 635.9,615.2" fill="#FF0000"/>
<polygon points="629.6,611.3 633.3,617.6 626.0,617.6" fill="#FF0000"/>
<polygon points="701.8,600.8 706.6,609.2 696.9,609.2" fill="#FF0000"/>
<polygon points="711.8,598.1 717.2,607.4 706.4,607.4" fill="#0000FF"/>
<polygon points="723.0,598.1 728.4,607.4 717.6,607.4" fill="#0000FF"/>
<polygon points="733.1,595.3 739.1,605.7 727.1,605.7" fill="#0000FF"/>
<polygon points="701.8,609.8 714.3,631.5 689.2,631.5" fill="#FF0000"/>
<circle cx="718.5" cy="625.1" r="9.0" fill="#0000FF"/>
<circle cx="764.4" cy="619.5" r="6.0" fill="#0000FF"/>
<circle cx="793.5" cy="621.8" r="8.4" fill="#0000FF"/>
<polygon points="660.9,645.3 668.7,631.8 653.2,631.8" fill="#0000FF"/>
<polygon points="678.3,648.0 686.7,633.5 669.9,633.5" fill="#0000FF"/>
<polygon points="688.9,645.4 695.5,633.9 682.3,633.9" fill="#0000FF"/>
<circle cx="705.7" cy="644.1" r="10.2" fill="#0000FF"/>
<polygon points="677.2,657.1 684.4,644.6 670.0,644.6" fill="#0000FF"/>
<polygon points="641.9,643.8 647.4,634.4 636.5,634.4" fill="#0000FF"/>
<circle cx="725.8" cy="653.1" r="3.0" fill="#FF0000"/>
<polygon points="749.3,636.4 759.4,654.0 739.1,654.0" fill="#FF0000"/>
<circle cx="762.1" cy="638.5" r="5.4" fill="#0000FF"/>
<polygon points="768.8,640.1 776.0,652.6 761.7,652.6" fill="#FF0000"/>
<polygon points="791.2,631.8 799.6,646.3 782.8,646.3" fill="#0000FF"/>
<polygon points="777.8,661.5 785.0,649.1 770.6,649.1" fill="#FFFF00"/>
<circle cx="808.0" cy="648.6" r="4.8" fill="#0000FF"/>
<polygon points="831.0,543.2 837.9,531.3 824.1,531.3" fill="#FF0000"/>
<polygon points="838.2,540.9 842.2,547.7 834.3,547.7" fill="#0000FF"/>
<polygon points="909.8,515.8 918.5,530.8 901.1,530.8" fill="#0000FF"/>
<polygon points="877.4,533.8 881.3,540.7 873.4,540.7" fill="#FF0000"/>
<polygon points="967.4,488.4 976.7,504.5 958.1,504.5" fill="#FF0000"/>
<polygon points="989.2,494.3 997.9,509.3 980.5,509.3" fill="#FF0000"/>
<circle cx="976.7" cy="539.8" r="6.6" fill="#0000FF"/>
<polygon points="860.0,550.9 869.9,567.9 850.2,567.9" fill="#FF0000"/>
<polygon points="888.9,564.5 896.7,551.0 881.1,551.0" fill="#0000FF"/>
<polygon points="903.4,564.8 910.0,553.3 896.8,553.3" fill="#0000FF"/>
<polygon points="881.6,558.0 894.2,579.7 869.1,579.7" fill="#FF0000"/>
<polygon points="852.8,580.4 860.3,567.4 845.3,567.4" fill="#0000FF"/>
<polygon points="840.5,587.1 848.6,573.1 832.4,573.1" fill="#0000FF"/>
<polygon points="897.3,588.5 905.7,573.9 888.9,573.9" fill="#0000FF"/>
<polygon points="947.6,570.7 957.2,554.1 938.0,554.1" fill="#FF0000"/>
<polygon points="942.2,583.5 953.9,563.3 930.6,563.3" fill="#0000FF"/>
<circle cx="996.8" cy="577.3" r="6.6" fill="#FF0000"/>
<polygon points="982.8,580.7 991.8,596.2 973.9,596.2" fill="#0000FF"/>
<polygon points="933.1,584.8 945.0,605.5 921.1,605.5" fill="#FFFF00"/>
<polygon points="961.6,587.1 973.5,607.7 949.6,607.7" fill="#0000FF"/>
<polygon points="845.0,599.3 851.9,611.2 838.1,611.2" fill="#FFFF00"/>
<circle cx="867.7" cy="603.6" r="6.6" fill="#FFFF00"/>
<polygon points="890.0,594.8 900.8,613.4 879.3,613.4" fill="#FF0000"/>
<polygon points="883.9,619.4 889.9,609.0 877.9,609.0" fill="#FF0000"/>
<circle cx="929.7" cy="615.3" r="7.8" fill="#0000FF"/>
<circle cx="811.2" cy="609.7" r="8.4" fill="#0000FF"/>
<polygon points="1050.9,484.8 1055.1,477.5 1046.6,477.5" fill="#FF0000"/>
<polygon points="1044.7,472.2 1051.9,484.6 1037.5,484.6" fill="#FF0000"/>
<polygon points="1061.5,475.8 1065.1,482.1 1057.9,482.1" fill="#FFFF00"/>
<circle cx="1019.0" cy="478.9" r="5.4" fill="#FFFF00"/>
<polygon points="1078.3,500.5 1083.1,492.1 1073.4,492.1" fill="#0000FF"/>
<circle cx="1072.7" cy="485.7" r="9.0" fill="#FF0000"/>
<polygon points="1013.4,508.6 1021.8,494.1 1005.0,494.1" fill="#FFFF00"/>
<polygon points="1015.1,507.6 1021.7,519.0 1008.5,519.0" fill="#0000FF"/>
<polygon points="1078.8,499.3 1090.2,519.0 1067.5,519.0" fill="#FFFF00"/>
<polygon points="1120.2,479.4 1131.0,498.0 1109.5,498.0" fill="#FF0000"/>
<polygon points="1183.4,494.6 1187.9,502.4 1178.9,502.4" fill="#FF0000"/>
<polygon points="1193.1,492.1 1201.8,507.1 1184.4,507.1" fill="#0000FF"/>
<polygon points="1055.9,518.7 1064.9,534.2 1046.9,534.2" fill="#FFFF00"/>
<circle cx="1030.2" cy="540.4" r="7.8" fill="#FFFF00"/>
<polygon points="1126.6,519.5 1139.4,541.7 1113.8,541.7" fill="#FFFF00"/>
<polygon points="1157.3,524.7 1165.4,538.7 1149.2,538.7" fill="#FFFF00"/>
<polygon points="1186.7,535.2 1193.3,523.8 1180.1,523.8" fill="#FFFF00"/>
<polygon points="1197.9,516.4 1203.3,525.8 1192.5,525.8" fill="#FFFF00"/>
<polygon points="1204.1,521.2 1210.7,509.8 1197.5,509.8" fill="#0000FF"/>
<polygon points="1107.3,542.7 1115.7,557.2 1099.0,557.2" fill="#FF0000"/>
<polygon points="1097.3,550.9 1103.9,562.4 1090.7,562.4" fill="#FFFF00"/>
<polygon points="1047.2,555.7 1054.1,567.7 1040.3,567.7" fill="#FFFF00"/>
<polygon points="1071.0,575.1 1079.4,560.6 1062.6,560.6" fill="#0000FF"/>
<polygon points="1096.9,550.7 1114.8,581.6 1079.1,581.6" fill="#FFFF00"/>
<polygon points="1058.7,599.8 1068.9,582.2 1048.5,582.2" fill="#FFFF00"/>
<polygon points="1151.5,584.5 1158.1,595.9 1144.9,595.9" fill="#FF0000"/>
<polygon points="1162.1,598.9 1173.5,579.3 1150.8,579.3" fill="#0000FF"/>
<polygon points="1233.2,490.5 1240.3,502.7 1226.2,502.7" fill="#FF0000"/>
<polygon points="1386.8,488.7 1396.2,505.0 1377.4,505.0" fill="#0000FF"/>
<circle cx="1319.5" cy="527.5" r="11.8" fill="#FF0000"/>
<polygon points="1412.4,507.0 1421.1,522.1 1403.7,522.1" fill="#FF0000"/>
<polygon points="1219.4,550.4 1228.1,565.5 1210.7,565.5" fill="#FFFF00"/>
<polygon points="1246.9,562.6 1257.0,580.1 1236.8,580.1" fill="#0000FF"/>
<circle cx="1271.6" cy="581.6" r="8.0" fill="#FFFF00"/>
<polygon points="1326.1,557.3 1337.6,577.1 1314.7,577.1" fill="#FF0000"/>
<polygon points="1358.5,592.3 1370.2,571.9 1346.7,571.9" fill="#0000FF"/>
<circle cx="1371.9" cy="594.4" r="10.8" fill="#FF0000"/>
<polygon points="1216.2,593.1 1226.3,575.7 1206.2,575.7" fill="#0000FF"/>
<polygon points="1221.1,581.8 1231.5,599.8 1210.7,599.8" fill="#0000FF"/>
<polygon points="1318.8,586.9 1329.9,606.2 1307.8,606.2" fill="#0000FF"/>
<polygon points="1271.6,613.2 1278.6,625.4 1264.5,625.4" fill="#FFFF00"/>
<polygon points="1299.7,609.9 1310.8,629.2 1288.6,629.2" fill="#0000FF"/>
<polygon points="1213.1,639.3 1222.6,655.9 1203.5,655.9" fill="#0000FF"/>
<circle cx="1385.9" cy="642.3" r="6.9" fill="#FFFF00"/>
<circle cx="1384.5" cy="695.8" r="12.2" fill="#0000FF"/>
<polygon points="1257.7,748.1 1272.6,722.3 1242.8,722.3" fill="#0000FF"/>
<circle cx="1009.8" cy="623.6" r="9.1" fill="#FF0000"/>
<polygon points="1015.2,619.9 1024.6,603.6 1005.8,603.6" fill="#FF0000"/>
<polygon points="1016.2,611.2 1023.9,624.6 1008.5,624.6" fill="#0000FF"/>
<polygon points="1030.9,613.1 1038.6,599.7 1023.2,599.7" fill="#0000FF"/>
<circle cx="1050.7" cy="632.0" r="7.0" fill="#FFFF00"/>
<circle cx="1036.7" cy="644.7" r="7.0" fill="#FFFF00"/>
<circle cx="1091.0" cy="623.0" r="7.0" fill="#FFFF00"/>
<polygon points="1100.2,636.8 1119.1,604.1 1081.3,604.1" fill="#FFFF00"/>
<polygon points="1036.7,683.1 1050.5,659.2 1022.9,659.2" fill="#FFFF00"/>
<polygon points="1064.8,671.1 1074.5,654.2 1055.0,654.2" fill="#0000FF"/>
<polygon points="1120.4,678.8 1130.8,696.8 1110.0,696.8" fill="#FFFF00"/>
<polygon points="1070.8,733.2 1082.2,713.4 1059.3,713.4" fill="#FF0000"/>
<polygon points="1033.7,750.6 1047.2,727.3 1020.3,727.3" fill="#0000FF"/>
<circle cx="272.0" cy="649.6" r="3.5" fill="#FFFF00"/>
<circle cx="275.9" cy="678.8" r="7.5" fill="#FFFF00"/>
<polygon points="289.3,673.0 293.3,679.9 285.3,679.9" fill="#FFFF00"/>
<circle cx="310.4" cy="670.7" r="5.5" fill="#FF0000"/>
<circle cx="320.0" cy="669.7" r="4.5" fill="#FF0000"/>
<polygon points="377.5,659.9 385.5,673.8 369.4,673.8" fill="#FF0000"/>
<circle cx="397.6" cy="660.1" r="8.0" fill="#FF0000"/>
<polygon points="279.2,683.1 290.8,703.2 267.6,703.2" fill="#FFFF00"/>
<circle cx="353.0" cy="677.4" r="9.6" fill="#0000FF"/>
<circle cx="381.3" cy="681.2" r="10.1" fill="#0000FF"/>
<polygon points="332.9,675.3 342.5,691.9 323.3,691.9" fill="#FF0000"/>
<circle cx="413.9" cy="676.9" r="6.0" fill="#FFFF00"/>
<circle cx="302.7" cy="689.8" r="7.5" fill="#0000FF"/>
<circle cx="281.1" cy="699.9" r="5.0" fill="#0000FF"/>
<polygon points="318.0,709.3 326.1,695.3 310.0,695.3" fill="#0000FF"/>
<polygon points="334.3,706.9 341.4,694.8 327.3,694.8" fill="#0000FF"/>
<polygon points="352.1,698.8 358.6,687.5 345.5,687.5" fill="#FFFF00"/>
<polygon points="396.6,697.1 402.6,707.5 390.6,707.5" fill="#FFFF00"/>
<polygon points="375.1,716.6 386.7,696.6 363.5,696.6" fill="#0000FF"/>
<circle cx="398.1" cy="690.8" r="6.0" fill="#FFFF00"/>
<polygon points="409.6,696.9 416.1,685.6 403.0,685.6" fill="#0000FF"/>
<polygon points="285.5,704.3 291.5,714.7 279.4,714.7" fill="#FFFF00"/>
<circle cx="301.7" cy="718.1" r="12.1" fill="#FFFF00"/>
<polygon points="345.3,717.0 352.9,703.9 337.8,703.9" fill="#FFFF00"/>
<polygon points="342.5,739.2 353.1,720.9 331.9,720.9" fill="#0000FF"/>
<polygon points="365.0,727.1 371.0,716.7 359.0,716.7" fill="#0000FF"/>
<polygon points="380.3,715.6 383.8,721.6 376.9,721.6" fill="#FF0000"/>
<polygon points="377.9,733.2 385.5,720.2 370.4,720.2" fill="#FFFF00"/>
<circle cx="395.7" cy="724.3" r="4.0" fill="#FF0000"/>
<circle cx="406.2" cy="712.8" r="6.0" fill="#0000FF"/>
<polygon points="407.2,729.9 414.2,717.8 400.1,717.8" fill="#0000FF"/>
<polygon points="410.0,737.9 419.6,721.3 400.5,721.3" fill="#FFFF00"/>
<circle cx="274.0" cy="735.8" r="7.5" fill="#FF0000"/>
<circle cx="286.9" cy="735.8" r="5.5" fill="#0000FF"/>
<polygon points="298.9,752.4 306.9,738.4 290.8,738.4" fill="#FFFF00"/>
<polygon points="328.6,749.3 338.7,731.9 318.5,731.9" fill="#FFFF00"/>
<polygon points="377.5,754.0 389.6,733.0 365.3,733.0" fill="#0000FF"/>
<polygon points="402.4,736.9 408.4,747.3 396.4,747.3" fill="#0000FF"/>
<polygon points="412.9,740.2 418.9,750.6 406.9,750.6" fill="#FF0000"/>
<polygon points="262.5,759.7 269.0,748.4 255.9,748.4" fill="#FFFF00"/>
<polygon points="275.9,763.7 285.9,746.3 265.8,746.3" fill="#0000FF"/>
<polygon points="307.5,748.8 312.5,757.4 302.5,757.4" fill="#FF0000"/>
<polygon points="317.1,762.8 326.1,747.2 308.0,747.2" fill="#0000FF"/>
<polygon points="342.0,767.0 353.6,746.9 330.4,746.9" fill="#0000FF"/>
<circle cx="519.6" cy="657.9" r="7.8" fill="#0000FF"/>
<polygon points="540.8,650.3 549.2,664.8 532.4,664.8" fill="#FF0000"/>
<polygon points="541.9,663.4 549.1,675.9 534.8,675.9" fill="#FFFF00"/>
<circle cx="552.6" cy="670.2" r="5.4" fill="#FFFF00"/>
<circle cx="563.8" cy="675.8" r="6.0" fill="#0000FF"/>
<circle cx="580.5" cy="685.3" r="6.0" fill="#0000FF"/>
<circle cx="581.1" cy="655.1" r="5.4" fill="#FFFF00"/>
<circle cx="593.4" cy="659.6" r="6.6" fill="#FFFF00"/>
<circle cx="586.7" cy="668.0" r="5.4" fill="#0000FF"/>
<polygon points="601.2,684.9 610.8,668.3 591.6,668.3" fill="#FF0000"/>
<polygon points="610.2,686.5 619.7,703.1 600.6,703.1" fill="#FF0000"/>
<circle cx="604.6" cy="710.4" r="7.8" fill="#0000FF"/>
<polygon points="611.3,753.2 623.8,731.5 598.7,731.5" fill="#0000FF"/>
<polygon points="594.5,721.0 602.3,734.5 586.7,734.5" fill="#FFFF00"/>
<circle cx="601.8" cy="736.2" r="4.8" fill="#FFFF00"/>
<circle cx="480.4" cy="664.6" r="4.8" fill="#FF0000"/>
<circle cx="484.9" cy="660.1" r="4.8" fill="#FFFF00"/>
<polygon points="494.4,659.6 502.8,674.1 486.0,674.1" fill="#FF0000"/>
<circle cx="477.1" cy="673.5" r="6.6" fill="#0000FF"/>
<polygon points="507.8,683.6 515.6,670.2 500.1,670.2" fill="#FFFF00"/>
<circle cx="528.0" cy="681.9" r="7.2" fill="#FFFF00"/>
<circle cx="516.8" cy="690.3" r="6.0" fill="#FFFF00"/>
<circle cx="505.0" cy="690.9" r="5.4" fill="#0000FF"/>
<circle cx="488.3" cy="687.0" r="5.4" fill="#FFFF00"/>
<polygon points="474.3,681.9 486.8,703.6 461.8,703.6" fill="#FFFF00"/>
<polygon points="537.5,703.0 548.2,684.4 526.7,684.4" fill="#0000FF"/>
<circle cx="524.1" cy="714.9" r="10.8" fill="#0000FF"/>
<polygon points="519.0,719.4 526.8,705.9 511.2,705.9" fill="#0000FF"/>
<circle cx="460.3" cy="676.9" r="5.4" fill="#0000FF"/>
<circle cx="452.5" cy="699.3" r="6.0" fill="#0000FF"/>
<circle cx="440.2" cy="702.6" r="4.8" fill="#0000FF"/>
<circle cx="432.4" cy="695.9" r="6.0" fill="#FFFF00"/>
<circle cx="445.8" cy="665.7" r="5.4" fill="#FFFF00"/>
<polygon points="426.8,676.2 436.3,659.7 417.2,659.7" fill="#0000FF"/>
<polygon points="439.6,680.9 446.2,669.5 433.0,669.5" fill="#0000FF"/>
<circle cx="432.4" cy="711.6" r="11.9" fill="#FF0000"/>
<polygon points="459.8,719.5 466.4,708.1 453.2,708.1" fill="#FFFF00"/>
<polygon points="467.0,713.4 473.0,703.0 461.0,703.0" fill="#0000FF"/>
<polygon points="439.6,701.9 446.2,713.4 433.0,713.4" fill="#FFFF00"/>
<polygon points="490.5,726.1 498.9,711.6 482.1,711.6" fill="#0000FF"/>
<polygon points="492.2,697.8 496.4,705.2 488.0,705.2" fill="#FFFF00"/>
<polygon points="481.0,702.4 486.4,711.8 475.6,711.8" fill="#FFFF00"/>
<circle cx="549.8" cy="712.7" r="6.6" fill="#FFFF00"/>
<circle cx="549.8" cy="720.5" r="6.0" fill="#FFFF00"/>
<circle cx="544.2" cy="732.8" r="4.8" fill="#FFFF00"/>
<polygon points="576.1,731.0 586.2,713.4 565.9,713.4" fill="#0000FF"/>
<circle cx="568.8" cy="727.2" r="9.0" fill="#0000FF"/>
<circle cx="553.1" cy="738.4" r="5.4" fill="#0000FF"/>
<circle cx="559.8" cy="749.6" r="5.4" fill="#0000FF"/>
<circle cx="582.8" cy="742.9" r="6.0" fill="#0000FF"/>
<circle cx="580.0" cy="757.4" r="7.2" fill="#FFFF00"/>
<circle cx="549.8" cy="755.2" r="6.0" fill="#0000FF"/>
<polygon points="558.7,783.0 575.4,754.2 542.0,754.2" fill="#0000FF"/>
<polygon points="530.8,753.2 536.2,743.8 525.3,743.8" fill="#0000FF"/>
<polygon points="518.5,761.1 529.2,742.5 507.7,742.5" fill="#FFFF00"/>
<polygon points="486.6,781.4 502.7,753.5 470.5,753.5" fill="#0000FF"/>
<polygon points="495.0,746.2 503.4,731.7 486.6,731.7" fill="#FFFF00"/>
<circle cx="477.1" cy="738.4" r="6.6" fill="#FF0000"/>
<polygon points="450.3,748.3 461.0,729.7 439.5,729.7" fill="#0000FF"/>
<polygon points="468.1,748.9 477.7,732.4 458.6,732.4" fill="#0000FF"/>
<circle cx="448.6" cy="750.7" r="6.0" fill="#FF0000"/>
<circle cx="415.6" cy="728.3" r="6.6" fill="#FFFF00"/>
<circle cx="414.5" cy="741.8" r="7.8" fill="#FF0000"/>
<polygon points="419.5,751.7 426.1,763.1 412.9,763.1" fill="#FFFF00"/>
<polygon points="434.6,772.6 441.8,760.1 427.4,760.1" fill="#0000FF"/>
<polygon points="541.4,777.8 546.8,768.4 536.0,768.4" fill="#FFFF00"/>
<polygon points="612.4,775.3 620.2,761.8 604.6,761.8" fill="#0000FF"/>
<polygon points="498.3,784.6 509.1,766.0 487.6,766.0" fill="#0000FF"/>
<polygon points="715.7,673.6 723.5,660.1 707.9,660.1" fill="#FFFF00"/>
<polygon points="701.8,680.7 711.3,664.1 692.2,664.1" fill="#0000FF"/>
<polygon points="676.6,693.3 690.3,669.5 662.9,669.5" fill="#0000FF"/>
<polygon points="672.1,681.2 682.3,698.8 662.0,698.8" fill="#FFFF00"/>
<circle cx="693.4" cy="691.7" r="6.0" fill="#0000FF"/>
<polygon points="641.4,671.7 652.1,653.1 630.6,653.1" fill="#0000FF"/>
<circle cx="644.2" cy="670.2" r="7.8" fill="#0000FF"/>
<circle cx="625.7" cy="675.8" r="7.8" fill="#0000FF"/>
<polygon points="621.2,697.1 628.4,684.6 614.0,684.6" fill="#FFFF00"/>
<circle cx="633.5" cy="685.8" r="6.0" fill="#FFFF00"/>
<polygon points="629.6,724.3 639.8,706.7 619.5,706.7" fill="#FFFF00"/>
<polygon points="617.3,717.0 623.9,728.5 610.7,728.5" fill="#0000FF"/>
<polygon points="617.9,757.2 635.8,726.3 600.0,726.3" fill="#0000FF"/>
<polygon points="635.2,785.0 647.8,763.3 622.7,763.3" fill="#0000FF"/>
<circle cx="768.8" cy="678.0" r="10.2" fill="#0000FF"/>
<polygon points="789.5,682.0 799.7,664.4 779.4,664.4" fill="#0000FF"/>
<polygon points="805.8,665.5 811.8,676.0 799.7,676.0" fill="#FFFF00"/>
<circle cx="803.0" cy="688.1" r="7.2" fill="#FFFF00"/>
<polygon points="738.1,700.2 748.3,682.6 727.9,682.6" fill="#0000FF"/>
<polygon points="731.9,711.8 737.4,702.4 726.5,702.4" fill="#FFFF00"/>
<polygon points="745.4,695.5 754.9,712.0 735.8,712.0" fill="#FFFF00"/>
<polygon points="743.7,731.0 753.8,713.4 733.5,713.4" fill="#FFFF00"/>
<polygon points="781.7,725.8 794.2,704.1 769.2,704.1" fill="#0000FF"/>
<circle cx="777.2" cy="731.7" r="5.4" fill="#FFFF00"/>
<polygon points="772.8,763.7 786.5,739.9 759.0,739.9" fill="#0000FF"/>
<polygon points="701.2,762.7 713.7,741.0 688.7,741.0" fill="#0000FF"/>
<polygon points="712.4,788.1 728.5,760.3 696.3,760.3" fill="#0000FF"/>
<polygon points="842.0,640.2 849.4,627.5 834.6,627.5" fill="#FFFF00"/>
<polygon points="835.0,669.9 843.3,655.3 826.6,655.3" fill="#FF0000"/>
<circle cx="848.8" cy="656.2" r="9.1" fill="#0000FF"/>
<polygon points="910.3,628.3 918.4,614.4 902.3,614.4" fill="#0000FF"/>
<polygon points="917.8,626.6 926.1,641.1 909.4,641.1" fill="#FF0000"/>
<polygon points="937.6,657.4 950.7,634.6 924.4,634.6" fill="#0000FF"/>
<circle cx="930.5" cy="670.3" r="7.0" fill="#FF0000"/>
<circle cx="886.5" cy="685.6" r="7.0" fill="#0000FF"/>
<polygon points="907.2,697.6 919.3,676.7 895.1,676.7" fill="#FFFF00"/>
<polygon points="898.0,724.4 907.0,708.7 888.9,708.7" fill="#0000FF"/>
<circle cx="855.8" cy="738.6" r="7.0" fill="#0000FF"/>
<polygon points="270.8,769.0 280.7,751.8 260.9,751.8" fill="#FFFF00"/>
<polygon points="293.6,770.7 300.8,758.3 286.4,758.3" fill="#0000FF"/>
<polygon points="305.0,755.4 308.3,761.2 301.7,761.2" fill="#FF0000"/>
<polygon points="284.3,799.2 299.7,772.5 268.9,772.5" fill="#0000FF"/>
<polygon points="333.0,779.3 342.9,762.2 323.1,762.2" fill="#0000FF"/>
<polygon points="361.6,795.4 378.6,765.9 344.5,765.9" fill="#0000FF"/>
<polygon points="394.8,781.0 409.7,755.3 380.0,755.3" fill="#0000FF"/>
<polygon points="405.7,787.1 415.6,770.0 395.8,770.0" fill="#FFFF00"/>
<polygon points="420.2,794.4 430.1,777.2 410.3,777.2" fill="#FFFF00"/>
<polygon points="303.5,810.1 318.3,784.4 288.6,784.4" fill="#0000FF"/>
<polygon points="322.1,800.1 332.6,782.0 311.7,782.0" fill="#0000FF"/>
<polygon points="279.1,820.0 295.6,791.5 262.6,791.5" fill="#0000FF"/>
<circle cx="342.4" cy="794.1" r="9.4" fill="#FF0000"/>
<circle cx="363.7" cy="812.8" r="6.6" fill="#0000FF"/>
<circle cx="395.3" cy="810.2" r="9.9" fill="#FFFF00"/>
<circle cx="414.0" cy="820.6" r="6.1" fill="#0000FF"/>
<circle cx="406.7" cy="835.1" r="5.0" fill="#0000FF"/>
<polygon points="395.3,844.2 411.8,815.6 378.8,815.6" fill="#FFFF00"/>
<polygon points="357.4,846.3 374.5,816.7 340.4,816.7" fill="#0000FF"/>
<polygon points="320.1,834.6 333.8,810.8 306.3,810.8" fill="#FFFF00"/>
<polygon points="272.8,849.5 290.4,819.0 255.2,819.0" fill="#0000FF"/>
<circle cx="299.8" cy="829.9" r="7.7" fill="#0000FF"/>
<polygon points="293.1,855.6 303.5,837.5 282.6,837.5" fill="#0000FF"/>
<polygon points="274.9,863.6 282.6,850.3 267.2,850.3" fill="#0000FF"/>
<polygon points="328.4,854.0 338.8,835.9 317.9,835.9" fill="#0000FF"/>
<polygon points="352.8,873.7 363.8,854.7 341.8,854.7" fill="#0000FF"/>
<polygon points="401.6,865.7 409.3,852.3 393.9,852.3" fill="#FFFF00"/>
<polygon points="367.3,872.5 380.5,849.6 354.1,849.6" fill="#FF0000"/>
<polygon points="389.6,870.6 401.2,850.5 378.1,850.5" fill="#0000FF"/>
<polygon points="425.4,818.5 432.6,806.1 418.3,806.1" fill="#0000FF"/>
<circle cx="454.2" cy="786.8" r="9.0" fill="#0000FF"/>
<polygon points="430.7,828.6 444.4,804.8 417.0,804.8" fill="#0000FF"/>
<polygon points="500.6,790.3 510.1,773.7 491.0,773.7" fill="#0000FF"/>
<polygon points="509.5,828.8 525.0,801.9 494.0,801.9" fill="#0000FF"/>
<polygon points="541.4,819.9 556.3,794.1 526.5,794.1" fill="#0000FF"/>
<polygon points="568.8,796.9 576.6,783.4 561.0,783.4" fill="#0000FF"/>
<polygon points="605.1,814.5 620.6,787.6 589.6,787.6" fill="#0000FF"/>
<polygon points="480.7,865.0 501.8,828.4 459.5,828.4" fill="#FF0000"/>
<circle cx="484.9" cy="870.7" r="8.4" fill="#0000FF"/>
<circle cx="583.9" cy="832.7" r="10.2" fill="#0000FF"/>
<circle cx="569.9" cy="842.7" r="9.6" fill="#0000FF"/>
<polygon points="635.3,793.2 648.9,769.6 621.7,769.6" fill="#0000FF"/>
<polygon points="652.3,797.6 665.7,774.5 639.0,774.5" fill="#0000FF"/>
<polygon points="611.6,814.5 627.0,787.7 596.1,787.7" fill="#0000FF"/>
<polygon points="712.3,795.0 728.4,767.1 696.2,767.1" fill="#0000FF"/>
<polygon points="734.5,829.4 755.8,792.5 713.3,792.5" fill="#0000FF"/>
<polygon points="670.6,845.5 682.4,825.1 658.8,825.1" fill="#0000FF"/>
<circle cx="285.1" cy="912.7" r="10.8" fill="#0000FF"/>
<polygon points="321.4,937.3 336.0,912.1 306.8,912.1" fill="#0000FF"/>
<polygon points="313.9,957.2 334.0,922.5 293.8,922.5" fill="#0000FF"/>
<polygon points="303.0,985.9 318.4,959.3 287.6,959.3" fill="#0000FF"/>
<polygon points="295.0,1045.0 315.5,1009.5 274.6,1009.5" fill="#0000FF"/>
<polygon points="407.3,895.9 419.8,874.3 394.9,874.3" fill="#0000FF"/>
<polygon points="429.7,902.7 446.4,873.8 413.0,873.8" fill="#0000FF"/>
<polygon points="413.7,922.4 430.4,893.5 397.0,893.5" fill="#0000FF"/>
<polygon points="456.4,919.4 475.2,886.9 437.6,886.9" fill="#0000FF"/>
<polygon points="490.4,924.6 509.6,891.3 471.2,891.3" fill="#0000FF"/>
<polygon points="436.9,954.8 451.9,928.8 421.9,928.8" fill="#0000FF"/>
<polygon points="462.0,942.2 474.8,919.9 449.1,919.9" fill="#0000FF"/>
<circle cx="942.6" cy="808.7" r="14.9" fill="#FFFF00"/>
<polygon points="687.4,915.0 702.3,889.2 672.4,889.2" fill="#0000FF"/>
</g>
<path d="M274.1,649.9 L298.1,647.2 L322.1,644.6 L346.2,642.0 L370.2,639.4 L394.2,636.9 L418.2,634.3 L442.3,631.7 L466.3,629.1 L490.3,626.6 L514.3,624.0 L538.3,621.4 L562.4,618.9 L586.4,616.3 L610.4,613.7 L634.4,611.1 L658.4,608.4 L682.5,605.5 L706.5,602.6 L730.5,599.6 L754.5,596.6 L778.6,593.6 L802.6,590.6 L826.6,587.5 L850.6,584.5 L874.6,581.5 L898.7,578.5 L922.7,575.5 L946.7,572.5 L970.7,569.4 L994.8,566.4 L1018.8,563.3 L1042.8,560.1 L1066.8,556.8 L1090.8,553.3 L1114.9,549.7 L1138.9,546.1 L1162.9,542.5 L1186.9,538.8 L1210.9,535.2 L1235.0,531.6 L1259.0,528.0 L1283.0,524.4 L1307.0,520.8 L1331.1,517.2 L1355.1,513.6 L1379.1,509.9 L1403.1,506.3 L1427.1,502.7 L1451.2,499.1 L1475.2,495.4 L1499.2,491.8 L1523.2,488.2 L1547.2,484.5 L1571.3,480.9 L1595.3,477.2 L1619.3,473.6 L1643.3,470.0 L1667.4,466.3 L1691.4,462.8 L1715.4,459.4 L1715.4,520.8 L1691.4,523.2 L1667.4,525.5 L1643.3,527.7 L1619.3,529.9 L1595.3,532.1 L1571.3,534.2 L1547.2,536.4 L1523.2,538.6 L1499.2,540.8 L1475.2,543.0 L1451.2,545.1 L1427.1,547.3 L1403.1,549.5 L1379.1,551.7 L1355.1,553.9 L1331.1,556.2 L1307.0,558.4 L1283.0,560.6 L1259.0,562.8 L1235.0,565.0 L1210.9,567.2 L1186.9,569.4 L1162.9,571.6 L1138.9,573.8 L1114.9,576.0 L1090.8,578.2 L1066.8,580.6 L1042.8,583.1 L1018.8,585.7 L994.8,588.4 L970.7,591.2 L946.7,594.0 L922.7,596.8 L898.7,599.6 L874.6,602.4 L850.6,605.2 L826.6,608.0 L802.6,610.8 L778.6,613.6 L754.5,616.4 L730.5,619.2 L706.5,622.0 L682.5,624.9 L658.4,627.9 L634.4,631.0 L610.4,634.2 L586.4,637.4 L562.4,640.7 L538.3,643.9 L514.3,647.2 L490.3,650.4 L466.3,653.7 L442.3,656.9 L418.2,660.2 L394.2,663.4 L370.2,666.7 L346.2,670.0 L322.1,673.2 L298.1,676.4 L274.1,679.5Z" fill="#0000FF" fill-opacity="0.4"/><line x1="274.1" y1="664.7" x2="1715.4" y2="490.1" stroke="#3366FF" stroke-width="9"/>
<path d="M274.1,638.1 L299.1,633.8 L324.0,629.5 L349.0,625.2 L374.0,620.9 L399.0,616.7 L423.9,612.4 L448.9,608.1 L473.9,603.9 L498.9,599.6 L523.8,595.3 L548.8,591.1 L573.8,586.8 L598.8,582.5 L623.7,578.2 L648.7,574.0 L673.7,569.7 L698.6,565.3 L723.6,560.9 L748.6,556.5 L773.6,552.0 L798.5,547.5 L823.5,543.0 L848.5,538.4 L873.5,533.9 L898.4,529.4 L923.4,524.9 L948.4,520.4 L973.4,515.9 L998.3,511.3 L1023.3,506.7 L1048.3,502.0 L1073.2,497.2 L1098.2,492.3 L1123.2,487.3 L1148.2,482.3 L1173.1,477.2 L1198.1,472.2 L1223.1,467.2 L1248.1,462.2 L1273.0,457.2 L1298.0,452.2 L1323.0,447.2 L1348.0,442.2 L1372.9,437.2 L1397.9,432.2 L1422.9,427.2 L1447.8,422.2 L1472.8,417.3 L1497.8,412.4 L1522.8,407.6 L1547.7,402.7 L1572.7,397.8 L1597.7,392.9 L1622.7,388.0 L1647.6,383.1 L1672.6,378.3 L1697.6,373.4 L1722.6,368.5 L1747.5,363.7 L1772.5,359.0 L1772.5,417.0 L1747.5,421.1 L1722.6,425.0 L1697.6,428.9 L1672.6,432.8 L1647.6,436.7 L1622.7,440.6 L1597.7,444.5 L1572.7,448.3 L1547.7,452.2 L1522.8,456.1 L1497.8,460.0 L1472.8,463.9 L1447.8,467.7 L1422.9,471.5 L1397.9,475.3 L1372.9,479.1 L1348.0,482.9 L1323.0,486.6 L1298.0,490.4 L1273.0,494.1 L1248.1,497.9 L1223.1,501.6 L1198.1,505.4 L1173.1,509.2 L1148.2,512.9 L1123.2,516.7 L1098.2,520.4 L1073.2,524.3 L1048.3,528.2 L1023.3,532.3 L998.3,536.4 L973.4,540.7 L948.4,544.9 L923.4,549.2 L898.4,553.4 L873.5,557.7 L848.5,561.9 L823.5,566.2 L798.5,570.4 L773.6,574.7 L748.6,578.9 L723.6,583.3 L698.6,587.6 L673.7,592.0 L648.7,596.5 L623.7,601.0 L598.8,605.5 L573.8,610.0 L548.8,614.5 L523.8,619.0 L498.9,623.5 L473.9,628.0 L448.9,632.5 L423.9,637.0 L399.0,641.5 L374.0,646.0 L349.0,650.5 L324.0,655.0 L299.1,659.5 L274.1,663.9Z" fill="#FFFF00" fill-opacity="0.4"/><line x1="274.1" y1="651.0" x2="1772.5" y2="388.0" stroke="#3366FF" stroke-width="9"/>
<path d="M274.1,600.6 L299.5,595.9 L324.8,591.2 L350.2,586.6 L375.5,581.9 L400.9,577.3 L426.2,572.6 L451.6,568.0 L476.9,563.4 L502.3,558.7 L527.7,554.1 L553.0,549.4 L578.4,544.8 L603.7,540.1 L629.1,535.5 L654.4,530.7 L679.8,525.9 L705.1,521.1 L730.5,516.2 L755.8,511.3 L781.2,506.4 L806.6,501.4 L831.9,496.5 L857.3,491.6 L882.6,486.7 L908.0,481.8 L933.3,476.9 L958.7,472.0 L984.0,467.1 L1009.4,462.1 L1034.8,457.1 L1060.1,452.0 L1085.5,446.8 L1110.8,441.5 L1136.2,436.1 L1161.5,430.8 L1186.9,425.5 L1212.2,420.1 L1237.6,414.8 L1262.9,409.5 L1288.3,404.1 L1313.7,398.8 L1339.0,393.5 L1364.4,388.1 L1389.7,382.8 L1415.1,377.5 L1440.4,372.1 L1465.8,366.7 L1491.1,361.3 L1516.5,355.9 L1541.9,350.6 L1567.2,345.2 L1592.6,339.8 L1617.9,334.4 L1643.3,329.0 L1668.6,323.6 L1694.0,318.2 L1719.3,312.8 L1744.7,307.4 L1770.0,302.1 L1795.4,296.9 L1795.4,353.3 L1770.0,357.8 L1744.7,362.1 L1719.3,366.4 L1694.0,370.7 L1668.6,375.0 L1643.3,379.3 L1617.9,383.6 L1592.6,387.9 L1567.2,392.2 L1541.9,396.4 L1516.5,400.7 L1491.1,405.0 L1465.8,409.3 L1440.4,413.6 L1415.1,417.9 L1389.7,422.3 L1364.4,426.6 L1339.0,431.0 L1313.7,435.3 L1288.3,439.7 L1262.9,444.0 L1237.6,448.4 L1212.2,452.7 L1186.9,457.1 L1161.5,461.4 L1136.2,465.8 L1110.8,470.1 L1085.5,474.5 L1060.1,479.0 L1034.8,483.5 L1009.4,488.2 L984.0,492.9 L958.7,497.7 L933.3,502.4 L908.0,507.2 L882.6,512.0 L857.3,516.7 L831.9,521.5 L806.6,526.3 L781.2,531.0 L755.8,535.8 L730.5,540.6 L705.1,545.4 L679.8,550.2 L654.4,555.1 L629.1,560.0 L603.7,565.0 L578.4,570.1 L553.0,575.1 L527.7,580.1 L502.3,585.2 L476.9,590.2 L451.6,595.2 L426.2,600.3 L400.9,605.3 L375.5,610.4 L350.2,615.4 L324.8,620.4 L299.5,625.4 L274.1,630.4Z" fill="#FF0000" fill-opacity="0.4"/><line x1="274.1" y1="615.5" x2="1795.4" y2="325.1" stroke="#3366FF" stroke-width="9"/>
</g>
<rect x="198.5" y="74.4" width="1698.3" height="1066.6" fill="none" stroke="#333" stroke-width="1.6"/>
<g stroke="#333" stroke-width="3.4">
<line x1="186" x2="198.5" y1="121.7" y2="121.7"/>
<line x1="186" x2="198.5" y1="255.0" y2="255.0"/>
<line x1="186" x2="198.5" y1="401.4" y2="401.4"/>
<line x1="186" x2="198.5" y1="534.3" y2="534.3"/>
<line x1="186" x2="198.5" y1="680.3" y2="680.3"/>
<line x1="186" x2="198.5" y1="813.6" y2="813.6"/>
<line x1="186" x2="198.5" y1="959.6" y2="959.6"/>
<line y1="1141" y2="1152" x1="274.5" x2="274.5"/>
<line y1="1141" y2="1152" x1="661.0" x2="661.0"/>
<line y1="1141" y2="1152" x1="1047.5" x2="1047.5"/>
<line y1="1141" y2="1152" x1="1434.0" x2="1434.0"/>
<line y1="1141" y2="1152" x1="1820.5" x2="1820.5"/>
</g>
<g font-size="36" fill="#4D4D4D" text-anchor="end">
<text x="177" y="136.3">30000</text>
<text x="177" y="269.6">10000</text>
<text x="177" y="416">3000</text>
<text x="177" y="548.9">1000</text>
<text x="177" y="694.9">300</text>
<text x="177" y="828.2">100</text>
<text x="177" y="974.2">30</text>
</g>
<g font-size="36" fill="#4D4D4D" text-anchor="middle">
<text x="274.5" y="1189.4">0.00</text>
<text x="661.0" y="1189.4">0.25</text>
<text x="1047.5" y="1189.4">0.50</text>
<text x="1434.0" y="1189.4">0.75</text>
<text x="1820.5" y="1189.4">1.00</text>
</g>
<text x="1047.6" y="1240" font-size="44.6" text-anchor="middle" fill="#000">Evaporation:Inflow</text>
<text transform="translate(47.3,607.5) rotate(-90)" font-size="44.6" text-anchor="middle" fill="#000">Total N ( <tspan font-family="'DejaVu Serif',serif">μ</tspan> g L<tspan dy="-23" font-size="31">-1</tspan><tspan dy="23"> )</tspan></text>

<!-- legend 1 -->
<rect x="1159" y="950.5" width="231" height="179.5" fill="#fff" stroke="#000" stroke-width="4"/>
<text x="1181" y="996" font-size="27.5" font-weight="bold" fill="#000">Total N Load</text>
<g fill="none" stroke="#000" stroke-width="2.5" stroke-linejoin="round">
<polygon points="1220,1041.6 1231.9,1021.6 1208.1,1021.6"/>
<circle cx="1220" cy="1060.2" r="8.6"/>
<polygon points="1220,1078.6 1231.9,1098.6 1208.1,1098.6"/>
</g>
<g font-size="26.8" fill="#000">
<text x="1272" y="1037.8">Low</text>
<text x="1272" y="1069.8">Medium</text>
<text x="1272" y="1102.6">High</text>
</g>

<!-- legend 2 -->
<rect x="1435.2" y="936.9" width="208.5" height="193.7" fill="#fff" stroke="#000" stroke-width="4"/>
<text x="1463" y="991.2" font-size="26" fill="#000"><tspan font-family="'DejaVu Serif',serif" font-size="25">δ</tspan><tspan dy="-13" font-size="18">15</tspan><tspan dy="13"> N (‰)</tspan></text>
<g stroke="#000" stroke-width="2">
<circle cx="1495.9" cy="1027.7" r="7.5" fill="#0000FF"/>
<circle cx="1495.9" cy="1060.2" r="7.5" fill="#FFFF00"/>
<circle cx="1495.9" cy="1092.7" r="7.5" fill="#FF0000"/>
</g>
<rect x="1456.9" y="1011.4" width="78.2" height="32.5" fill="#0000FF" fill-opacity="0.4"/>
<rect x="1456.9" y="1043.9" width="78.2" height="32.5" fill="#FFFF00" fill-opacity="0.4"/>
<rect x="1456.9" y="1076.4" width="78.2" height="32.5" fill="#FF0000" fill-opacity="0.4"/>
<g stroke="#3366FF" stroke-width="8.8">
<line x1="1464.8" x2="1527.2" y1="1027.7" y2="1027.7"/>
<line x1="1464.8" x2="1527.2" y1="1060.2" y2="1060.2"/>
<line x1="1464.8" x2="1527.2" y1="1092.7" y2="1092.7"/>
</g>
<g font-size="26.8" fill="#000">
<text x="1547" y="1037.7">&lt;4</text>
<text x="1547" y="1070.2">4&lt;x&lt;7</text>
<text x="1547" y="1102.7">&gt;7</text>
</g>

<!-- legend 3 -->
<rect x="1689.8" y="844.9" width="190.6" height="285.6" fill="#fff" stroke="#000" stroke-width="4"/>
<text x="1711" y="889.4" font-size="27.5" font-weight="bold" fill="#000">Lake Depth</text>
<g fill="#000">
<circle cx="1751.2" cy="922.1" r="9.9"/>
<circle cx="1751.2" cy="953.8" r="11.9"/>
<circle cx="1751.2" cy="986" r="13.6"/>
<circle cx="1751.2" cy="1018.7" r="14.9"/>
<circle cx="1751.2" cy="1052.8" r="16.1"/>
<circle cx="1751.2" cy="1089.5" r="16.8"/>
</g>
<g font-size="26.8" fill="#000">
<text x="1802" y="931.5">10</text>
<text x="1802" y="963.7">20</text>
<text x="1802" y="996.4">30</text>
<text x="1802" y="1029.3">40</text>
<text x="1802" y="1062.7">50</text>
<text x="1802" y="1098.6">60</text>
</g>
</svg>
</body></html>
